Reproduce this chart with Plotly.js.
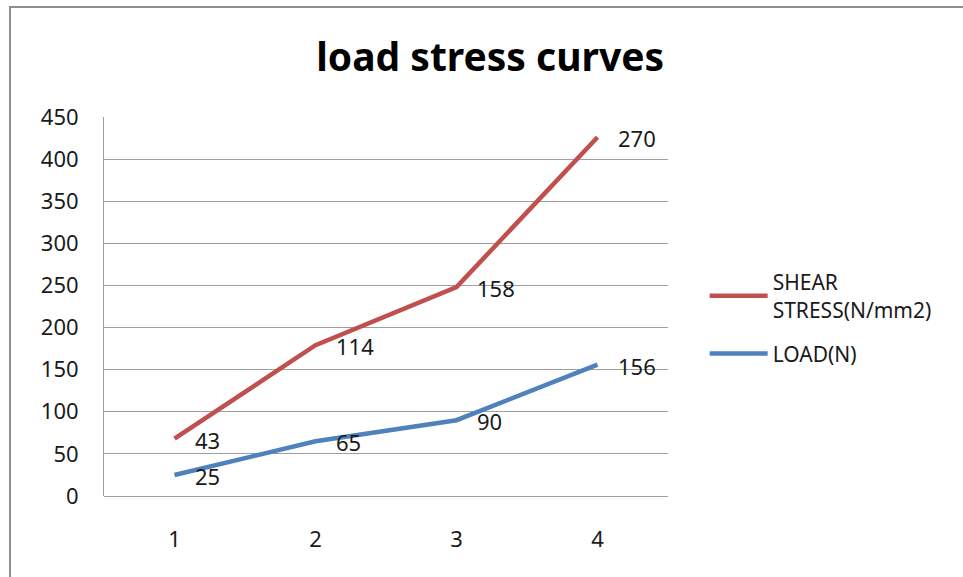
<!DOCTYPE html>
<html>
<head>
<meta charset="utf-8">
<script src="https://cdn.plot.ly/plotly-3.0.1.min.js"></script>
<style>
html,body{margin:0;padding:0;background:#fff;overflow:hidden;}
#frame{position:absolute;left:9px;top:6px;width:1000px;height:1000px;border:2px solid #8e8e8e;box-sizing:border-box;}
#chart{position:absolute;left:0;top:0;width:963px;height:577px;}
</style>
</head>
<body>
<div id="frame"></div>
<div id="chart"></div>
<script>
var categories = [1, 2, 3, 4];
var loadValues = [25, 65, 90, 156];
var shearValues = [43, 114, 158, 270];
var yTicks = [0, 50, 100, 150, 200, 250, 300, 350, 400, 450];

var shearTop = shearValues.map(function (v, i) { return v + loadValues[i]; });

var traces = [
  {
    x: categories, y: loadValues, name: 'LOAD(N)', type: 'scatter', mode: 'lines',
    stackgroup: 'one', fill: 'none', legendgroup: 'load', legendrank: 2,
    line: {color: '#4F81BD', width: 4.5}
  },
  {
    x: categories, y: shearValues, name: 'SHEAR<br>STRESS(N/mm2)', type: 'scatter', mode: 'lines',
    stackgroup: 'one', fill: 'none', legendgroup: 'shear', legendrank: 1,
    line: {color: '#C0504D', width: 4.5}
  }
];

var annotations = [];
function addLabels(vals, tops) {
  vals.forEach(function (v, i) {
    annotations.push({
      x: categories[i], y: tops[i], xref: 'x', yref: 'y', text: String(v),
      showarrow: false, xanchor: 'left', yanchor: 'middle', xshift: 18, yshift: -1,
      font: {family: 'Noto Sans, sans-serif', size: 22, color: '#1a1a1a'}
    });
  });
}
addLabels(loadValues, loadValues);
addLabels(shearValues, shearTop);

var layout = {
  width: 963, height: 577,
  margin: {l: 104, r: 295, t: 117, b: 81},
  paper_bgcolor: 'rgba(0,0,0,0)', plot_bgcolor: 'rgba(0,0,0,0)',
  title: {
    text: '<b>load stress curves</b>',
    x: 0.509, xref: 'container', xanchor: 'center',
    y: 0.9, yref: 'container', yanchor: 'middle',
    font: {family: 'Noto Sans, sans-serif', size: 39, color: '#000'}
  },
  xaxis: {
    type: 'linear', range: [0.5, 4.5], tickvals: categories, ticktext: categories.map(String),
    showgrid: false, zeroline: false, showline: false, ticks: '',
    ticklabelstandoff: 28,
    tickfont: {family: 'Noto Sans, sans-serif', size: 22, color: '#1a1a1a'}
  },
  yaxis: {
    range: [0, 450], tickvals: yTicks, ticktext: yTicks.map(String),
    showgrid: true, gridcolor: '#9e9e9e', gridwidth: 1,
    zeroline: true, zerolinecolor: '#9e9e9e', zerolinewidth: 1,
    showline: true, linecolor: '#9e9e9e', linewidth: 1, ticks: '',
    ticklabelstandoff: 20,
    tickfont: {family: 'Noto Sans, sans-serif', size: 22, color: '#1a1a1a'}
  },
  showlegend: true,
  legend: {
    x: 1.065, y: 0.47, xanchor: 'left', yanchor: 'middle',
    traceorder: 'grouped', tracegroupgap: 14, itemwidth: 58,
    bgcolor: 'rgba(0,0,0,0)',
    font: {family: 'Noto Sans, sans-serif', size: 21, color: '#1a1a1a'}
  },
  annotations: annotations,
  hovermode: false
};

Plotly.newPlot('chart', traces, layout, {displayModeBar: false, staticPlot: true});
</script>
</body>
</html>
